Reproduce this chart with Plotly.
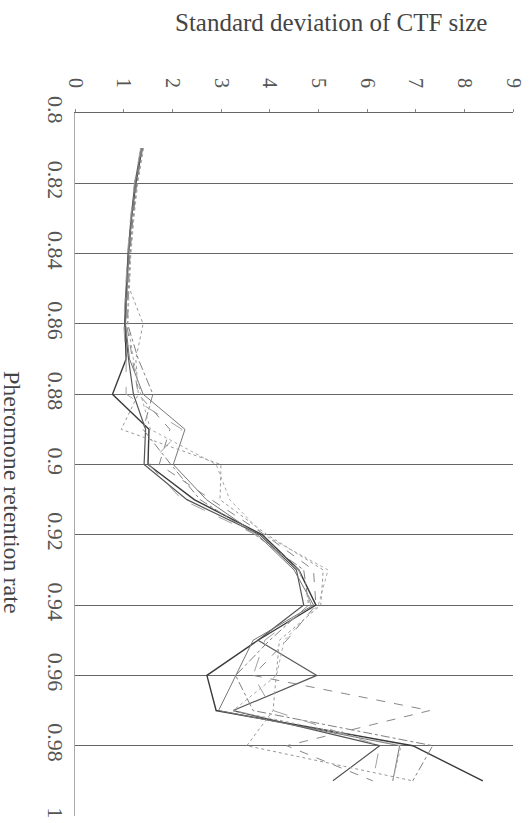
import plotly.graph_objects as go

rates = [0.81, 0.82, 0.83, 0.84, 0.85, 0.86, 0.87, 0.88, 0.89, 0.90,
         0.91, 0.92, 0.93, 0.94, 0.95, 0.96, 0.97, 0.98, 0.99]

run1 = [1.38, 1.25, 1.16, 1.10, 1.06, 1.03, 1.05, 0.77, 1.52, 1.50, 2.45, 3.85, 4.60, 4.95, 3.76, 2.71, 2.90, 6.94, 8.38]
run2 = [1.36, 1.23, 1.15, 1.09, 1.05, 1.02, 1.10, 1.20, 1.45, 1.42, 2.30, 3.80, 4.55, 4.70, 3.76, 4.97, 3.25, 6.26, 5.30]
run3 = [1.37, 1.24, 1.16, 1.10, 1.07, 1.04, 1.12, 1.40, 2.26, 2.02, 2.70, 3.75, 4.50, 4.90, 3.66, 3.30, 2.95, 6.67, 6.53]
run4 = [1.38, 1.26, 1.18, 1.12, 1.08, 1.06, 1.18, 1.30, 1.95, 1.73, 2.80, 3.90, 4.90, 4.95, 4.35, 3.66, 7.29, 4.35, 6.12]
run5 = [1.40, 1.28, 1.20, 1.14, 1.12, 1.40, 1.25, 1.30, 0.95, 3.00, 2.98, 3.95, 5.10, 5.05, 4.20, 4.14, 4.07, 3.53, 6.94]
run6 = [1.39, 1.27, 1.19, 1.13, 1.10, 1.08, 1.30, 1.60, 1.40, 1.97, 2.57, 3.70, 4.70, 4.80, 4.00, 3.30, 3.66, 7.35, 6.94]
run7 = [1.35, 1.22, 1.14, 1.08, 1.04, 1.00, 1.05, 1.05, 2.20, 1.52, 2.20, 3.72, 4.60, 4.85, 3.90, 3.66, 4.07, 6.26, 6.12]
run8 = [1.41, 1.29, 1.21, 1.15, 1.11, 1.09, 1.20, 1.35, 1.55, 2.90, 3.18, 3.88, 5.20, 5.00, 4.30, 4.14, 3.25, 6.70, 6.53]

runs = [run1, run2, run3, run4, run5, run6, run7, run8]
colors = ["#3a3a3a", "#555555", "#777777", "#888888", "#999999", "#808080", "#a0a0a0", "#aaaaaa"]
dashes = ["solid", "solid", "solid", "dash", "dot", "dashdot", "longdash", "dot"]
widths = [1.4, 1.2, 1.0, 1.0, 1.0, 1.0, 1.0, 1.0]

rate_ticks = [0.8, 0.82, 0.84, 0.86, 0.88, 0.9, 0.92, 0.94, 0.96, 0.98, 1.0]
rate_labels = ["0.8", "0.82", "0.84", "0.86", "0.88", "0.9", "0.92", "0.94", "0.96", "0.98", "1"]
sd_ticks = [0, 1, 2, 3, 4, 5, 6, 7, 8, 9]

fig = go.Figure()
for i, r in enumerate(runs):
    fig.add_trace(go.Scatter(
        x=r, y=rates, mode="lines",
        line=dict(color=colors[i], dash=dashes[i], width=widths[i]),
        showlegend=False, cliponaxis=False, hoverinfo="skip"))

font = "Liberation Serif, Times New Roman, serif"
L, R, T, B = 75, 513, 113, 816
W, H = R - L, B - T
fig.update_layout(
    width=531, height=823,
    margin=dict(l=L, r=531 - R, t=T, b=823 - B, autoexpand=False),
    paper_bgcolor="white", plot_bgcolor="white",
    font=dict(family=font, color="#555555"),
    xaxis=dict(range=[0, 9], side="top", tickvals=sd_ticks, tickangle=90,
               tickfont=dict(size=20, family=font, color="#555555"),
               showgrid=False, zeroline=False, showline=True, linecolor="#666666",
               linewidth=1, ticks="outside", ticklen=3, tickcolor="#888888",
               ticklabelstandoff=14, automargin=False),
    yaxis=dict(range=[1.0, 0.8], tickvals=rate_ticks, ticktext=rate_labels, tickangle=90,
               tickfont=dict(size=22, family=font, color="#555555"),
               showgrid=True, gridcolor="#666666", gridwidth=1, zeroline=False,
               showline=True, linecolor="#aaaaaa", linewidth=1, ticks="",
               ticklabelstandoff=0, automargin=False),
    annotations=[
        dict(text="Standard deviation of CTF size", xref="paper", yref="paper",
             x=(331 - L) / W, y=1 + (T - 22) / H, showarrow=False,
             font=dict(size=25, family=font, color="#444444"),
             xanchor="center", yanchor="middle"),
        dict(text="Pheromone retention rate", xref="paper", yref="paper",
             x=(12 - L) / W, y=(B - 492) / H, showarrow=False, textangle=90,
             font=dict(size=24, family=font, color="#444444"),
             xanchor="center", yanchor="middle"),
    ],
)

fig.write_html("out.html", config={"displayModeBar": False},
               post_script="document.body.style.margin='0';document.body.style.overflow='hidden';")
